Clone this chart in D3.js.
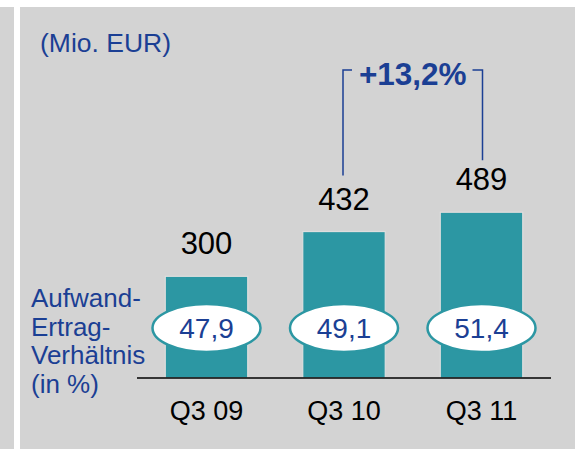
<!DOCTYPE html>
<html>
<head>
<meta charset="utf-8">
<script src="https://cdn.jsdelivr.net/npm/d3@7"></script>
<style>
  html, body { margin: 0; padding: 0; background: #ffffff; }
  svg { display: block; font-family: "Liberation Sans", Arial, sans-serif; }
</style>
</head>
<body>
<svg id="chart" width="575" height="449"></svg>
<script>
// Quarterly values (Mio. EUR) and cost-income ratios
const categories = ["Q3 09", "Q3 10", "Q3 11"];
const values = [300, 432, 489];
const ratios = ["47,9", "49,1", "51,4"];
const growthLabel = "+13,2%";
const unitLabel = "(Mio. EUR)";
const ratioLabelLines = ["Aufwand-", "Ertrag-", "Verhältnis", "(in %)"];

const teal = "#2c97a3";
const blue = "#1b3f94";
const panel = "#d3d3d3";

const svg = d3.select("#chart");

// Background panels
svg.append("rect").attr("x", 0).attr("y", 7).attr("width", 14).attr("height", 442).attr("fill", panel);
svg.append("rect").attr("x", 20).attr("y", 7).attr("width", 555).attr("height", 442).attr("fill", panel);

const baseline = 378;
const x = d3.scaleBand()
  .domain(categories)
  .range([124, 564])
  .paddingInner(0.4)
  .paddingOuter(0.3);

const y = d3.scaleLinear()
  .domain([0, 500])
  .range([baseline, baseline - 169.5]);

const cx = d => x(d) + x.bandwidth() / 2;

// Bars
svg.append("g").selectAll("rect")
  .data(categories)
  .join("rect")
  .attr("x", d => x(d))
  .attr("y", (d, i) => y(values[i]))
  .attr("width", x.bandwidth())
  .attr("height", (d, i) => y(0) - y(values[i]))
  .attr("fill", teal)
  .attr("stroke", "#dedede")
  .attr("stroke-width", 1.2);

// Baseline
svg.append("line")
  .attr("x1", 137).attr("x2", 551)
  .attr("y1", baseline).attr("y2", baseline)
  .attr("stroke", "#000").attr("stroke-width", 1.3);

// Value labels
svg.append("g").selectAll("text")
  .data(categories)
  .join("text")
  .attr("x", d => cx(d))
  .attr("y", (d, i) => y(values[i]) - 22)
  .attr("text-anchor", "middle")
  .attr("font-size", 31)
  .attr("fill", "#000")
  .text((d, i) => values[i]);

// Category labels
const xAxis = d3.axisBottom(x).tickSize(0).tickPadding(0);
const axisG = svg.append("g")
  .attr("transform", `translate(0,${baseline})`)
  .call(xAxis);
axisG.select(".domain").remove();
axisG.selectAll("text")
  .attr("y", 42)
  .attr("dy", 0)
  .attr("font-size", 27)
  .attr("font-family", "Liberation Sans, Arial, sans-serif")
  .attr("fill", "#000");

// Ratio ellipses
const ell = svg.append("g").selectAll("g")
  .data(categories)
  .join("g")
  .attr("transform", d => `translate(${cx(d)},328)`);
ell.append("ellipse")
  .attr("rx", 54).attr("ry", 24)
  .attr("fill", "#fff")
  .attr("stroke", teal)
  .attr("stroke-width", 2.5);
ell.append("text")
  .attr("text-anchor", "middle")
  .attr("y", 10)
  .attr("font-size", 28)
  .attr("fill", blue)
  .text((d, i) => ratios[i]);

// Ratio caption
svg.append("text")
  .attr("x", 31)
  .attr("font-size", 26)
  .attr("fill", blue)
  .selectAll("tspan")
  .data(ratioLabelLines)
  .join("tspan")
  .attr("x", 31)
  .attr("y", (d, i) => 307 + i * 28.5)
  .text(d => d);

// Unit label
svg.append("text")
  .attr("x", 40).attr("y", 52)
  .attr("font-size", 26.5)
  .attr("fill", blue)
  .text(unitLabel);

// Growth bracket between Q3 10 and Q3 11
const bx1 = cx(categories[1]) - 1;
const bx2 = cx(categories[2]) + 1;
const bTop = 70;
const bracket = d3.path();
bracket.moveTo(bx1, y(values[1]) - 56);
bracket.lineTo(bx1, bTop);
bracket.lineTo(bx1 + 9, bTop);
bracket.moveTo(bx2 - 10, bTop);
bracket.lineTo(bx2, bTop);
bracket.lineTo(bx2, y(values[2]) - 52);
svg.append("path")
  .attr("d", bracket.toString())
  .attr("fill", "none")
  .attr("stroke", blue)
  .attr("stroke-width", 1.5);

svg.append("text")
  .attr("x", (bx1 + bx2) / 2)
  .attr("y", 85)
  .attr("text-anchor", "middle")
  .attr("font-size", 31.5)
  .attr("font-weight", "bold")
  .attr("fill", blue)
  .text(growthLabel);
</script>
</body>
</html>
